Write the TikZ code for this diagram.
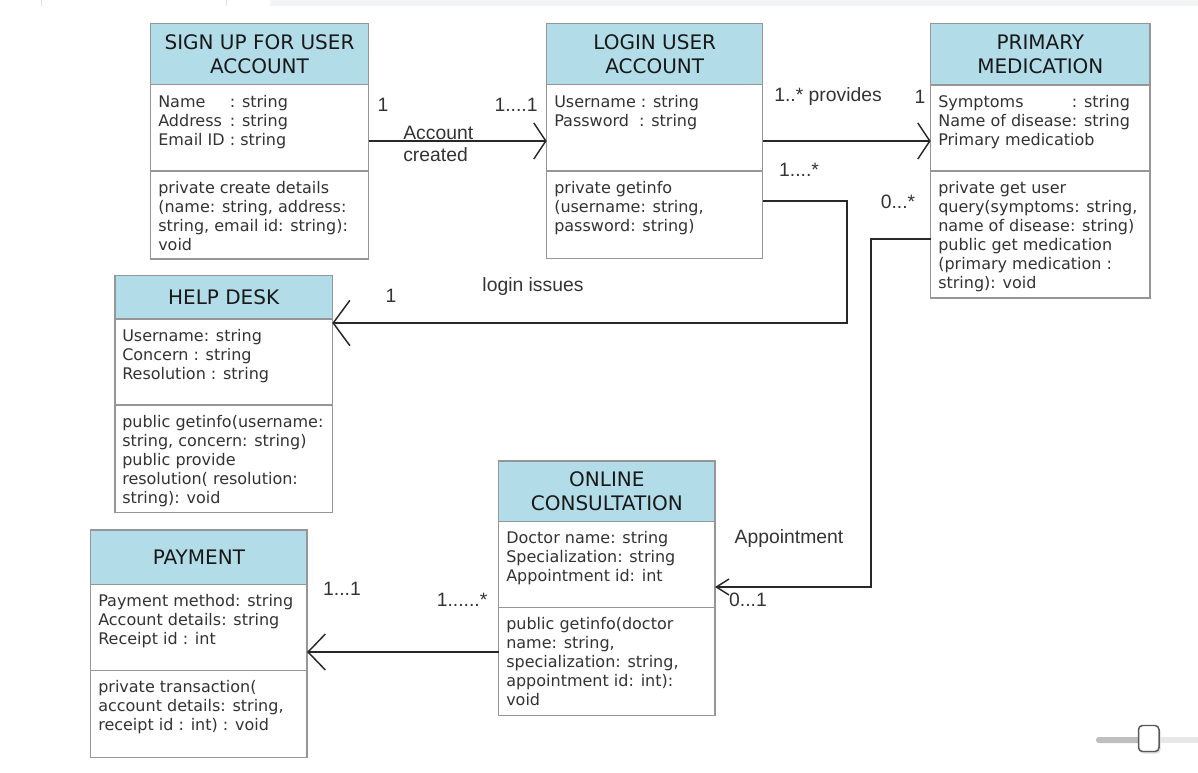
\documentclass[tikz,border=0pt]{standalone}
\usepackage{fontspec}
\setmainfont{DejaVu Sans}
\newfontfamily\lblfont{Liberation Sans}
\usetikzlibrary{arrows.meta}
\definecolor{hdrblue}{RGB}{177,220,232}
\definecolor{boxgray}{RGB}{150,150,150}
\definecolor{linedark}{RGB}{40,40,40}
\definecolor{txtdark}{RGB}{51,51,51}
\definecolor{topbar}{RGB}{243,244,246}
\tikzset{
  hdrbox/.style={draw=boxgray, line width=1pt, fill=hdrblue, anchor=north west, inner sep=0pt, outer sep=0pt,
    align=center, text=black!90, font=\fontsize{15}{18}\selectfont},
  secbox/.style={draw=boxgray, line width=1pt, fill=white, anchor=north west, inner sep=0pt, outer sep=0pt},
  txt/.style={anchor=north west, inner sep=0pt, align=left, text=txtdark, font=\fontsize{12}{14.25}\selectfont},
  lbl/.style={inner sep=0pt, text=txtdark, font=\lblfont\fontsize{14.5}{16.5}\selectfont},
  conn/.style={draw=linedark, line width=1.1pt},
  barbA/.style={-{Straight Barb[length=9pt,width=27pt]}},
  barbB/.style={-{Straight Barb[length=12.5pt,width=34pt]}},
  barbC/.style={-{Straight Barb[length=13pt,width=27pt]}},
  barbD/.style={-{Straight Barb[length=9.5pt,width=12pt]}},
}
% #1 name, #2 x, #3 y top, #4 width, #5 header h, #6 attr h, #7 method h, #8 title
\newcommand\umlclass[8]{%
  \node[hdrbox, minimum width={#4*0.75pt}, minimum height={#5*0.75pt}] (#1H) at (#2,#3) {#8};
  \node[secbox, minimum width={#4*0.75pt}, minimum height={#6*0.75pt}] (#1A) at (#1H.south west) {};
  \node[secbox, minimum width={#4*0.75pt}, minimum height={#7*0.75pt}] (#1M) at (#1A.south west) {};
}
\newcommand\firstline{\rule{0pt}{9.75pt}}
\begin{document}
\begin{tikzpicture}[x=0.75pt, y=-0.75pt]
\useasboundingbox (0,0) rectangle (1198,773);
% top strip
\fill[topbar] (270,0) rectangle (1198,6);
\draw[black!12, line width=0.6pt] (41,0) -- (41,6) (226,0) -- (226,6);

% classes
\umlclass{su}{150.5}{23.5}{218}{61}{86.5}{88}{SIGN UP FOR USER\\ACCOUNT}
\umlclass{li}{546.7}{23.5}{216}{61}{86.5}{87.5}{LOGIN USER\\ACCOUNT}
\umlclass{pm}{930.7}{23.5}{219.3}{61.5}{86}{127}{PRIMARY\\MEDICATION}
\umlclass{hd}{115}{275.7}{217.3}{43.3}{86}{107.3}{HELP DESK}
\umlclass{pay}{90.7}{530}{216.3}{54.3}{86}{87}{PAYMENT}
\umlclass{oc}{498.7}{461}{216.3}{60.7}{86}{108}{ONLINE\\CONSULTATION}

% class texts
\node[txt] (suAt) at (158,94) {\firstline\makebox[0pt][l]{Name}\phantom{Email ID }: string\\\makebox[0pt][l]{Address}\phantom{Email ID\ }: string\\Email ID : string};
\node[txt] (suMt) at (158,180) {\firstline private create details\\(name: string, address:\\string, email id: string):\\void};
\node[txt] (liAt) at (554,94) {\firstline Username : string\\Password \ : string};
\node[txt] (liMt) at (554,180) {\firstline private getinfo\\(username: string,\\password: string)};
\node[txt] (pmAt) at (938,94) {\firstline\makebox[0pt][l]{Symptoms}\phantom{Name of disease}: string\\Name of disease: string\\Primary medicatiob};
\node[txt] (pmMt) at (938,180) {\firstline private get user\\query(symptoms: string,\\name of disease: string)\\public get medication\\(primary medication :\\string): void};
\node[txt] (hdAt) at (122,328) {\firstline Username: string\\Concern : string\\Resolution : string};
\node[txt] (hdMt) at (122,414) {\firstline public getinfo(username:\\string, concern: string)\\public provide\\resolution( resolution:\\string): void};
\node[txt] (payAt) at (98,593.5) {\firstline Payment method: string\\Account details: string\\Receipt id : int};
\node[txt] (payMt) at (98,679.5) {\firstline private transaction(\\account details: string,\\receipt id : int) : void};
\node[txt] (ocAt) at (506,530.5) {\firstline Doctor name: string\\Specialization: string\\Appointment id: int};
\node[txt] (ocMt) at (506,616.5) {\firstline public getinfo(doctor\\name: string,\\specialization: string,\\appointment id: int):\\void};

% helper coordinates
\coordinate (y141) at (0,141);
\coordinate (bendA) at (847,201);
\coordinate (y323) at (0,323);
\coordinate (bendB) at (871,239);
\coordinate (y587) at (0,587);
\coordinate (y652) at (0,652);

% connectors
\draw[conn, barbA] (suA.east |- y141) -- (liA.west |- y141);
\draw[conn, barbA] (liA.east |- y141) -- (pmA.west |- y141);
\draw[conn, barbB] (liM.east |- bendA) -- (bendA) |- (hdA.east |- y323);
\draw[conn, barbD] (pmM.west |- bendB) -- (bendB) |- (ocA.east |- y587);
\draw[conn, barbC] (ocM.west |- y652) -- (payA.east |- y652);

% labels
\node[lbl] (l1) at (383,105) {1};
\node[lbl] (l2) at (516,105) {1....1};
\node[lbl, align=left, anchor=west] (l3) at (403,144) {Account\\created};
\node[lbl] (l4) at (828,97) {1..* provides};
\node[lbl] (l5) at (920,97) {1};
\node[lbl] (l6) at (799,170) {1....*};
\node[lbl] (l7) at (898,202) {0...*};
\node[lbl] (l8) at (391,296) {1};
\node[lbl] (l9) at (533,287) {login issues};
\node[lbl] (l10) at (789,538) {Appointment};
\node[lbl] (l11) at (748,600) {0...1};
\node[lbl] (l12) at (342,589) {1...1};
\node[lbl] (l13) at (462,600) {1......*};

% slider
\fill[black!25, rounded corners=2pt] (1096,737) rectangle (1142,743);
\fill[black!9] (1142,737) rectangle (1198,743);
\fill[black!15, rounded corners=3pt] (1139.5,727.5) rectangle (1160.5,753.5);
\draw[fill=white, draw=black!65, line width=1.1pt, rounded corners=3pt] (1138.5,725.5) rectangle (1159,751.5);
\end{tikzpicture}
\end{document}
